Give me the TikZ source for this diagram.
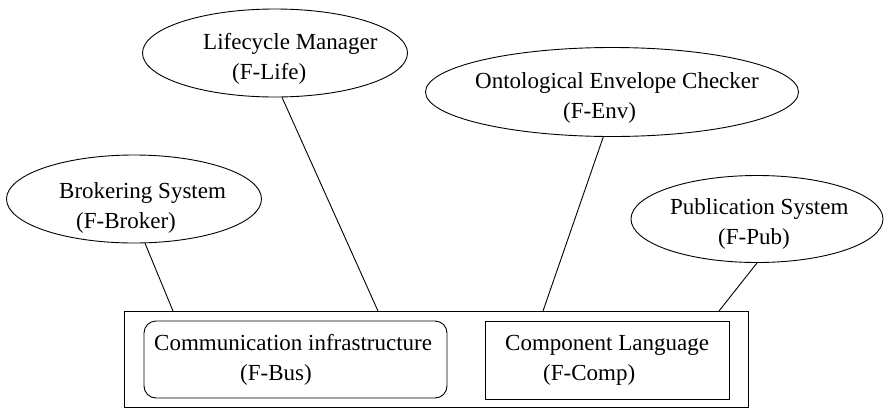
\documentclass[tikz,border=0pt]{standalone}
\usepackage{fontspec}
\setmainfont{Liberation Serif}
\usetikzlibrary{shapes.geometric}
\begin{document}
\begin{tikzpicture}[x=1pt,y=-1pt,
  oval/.style={draw, ellipse, inner sep=0pt, line width=0.9pt},
  boxshape/.style={draw, inner sep=0pt, line width=0.9pt},
  lbl/.style={anchor=base west, inner sep=0pt, font=\fontsize{23}{30}\selectfont},
  conn/.style={line width=0.9pt}]
\useasboundingbox (0,0) rectangle (884,408);
% ellipses
\node[oval, minimum width=265pt, minimum height=88pt] (life) at (275,53) {};
\node[oval, minimum width=255pt, minimum height=88pt] (brok) at (134,199) {};
\node[oval, minimum width=373pt, minimum height=89pt] (env) at (612,92) {};
\node[oval, minimum width=252pt, minimum height=87pt] (pub) at (757,219) {};
% boxes
\node[boxshape, minimum width=624pt, minimum height=96pt] (outer) at (436,359) {};
\node[boxshape, rounded corners=12pt, minimum width=303pt, minimum height=77pt] (bus) at (295.5,359.5) {};
\node[boxshape, minimum width=244pt, minimum height=78pt] (comp) at (607,360) {};
% labels
\node[lbl] (lifeA) at (203,49) {Lifecycle Manager};
\node[lbl] (lifeB) at (232,79) {(F-Life)};
\node[lbl] (brokA) at (59,198) {Brokering System};
\node[lbl] (brokB) at (76,228) {(F-Broker)};
\node[lbl] (envA) at (475,88) {Ontological Envelope Checker};
\node[lbl] (envB) at (563,118) {(F-Env)};
\node[lbl] (pubA) at (670,214) {Publication System};
\node[lbl] (pubB) at (718,244) {(F-Pub)};
\node[lbl] (busA) at (154,350) {Communication infrastructure};
\node[lbl] (busB) at (240,380) {(F-Bus)};
\node[lbl] (compA) at (505,350) {Component Language};
\node[lbl] (compB) at (543,380) {(F-Comp)};
% connector ends on the outer box
\coordinate (cb) at (173,311);
\coordinate (cl) at (378,311);
\coordinate (ce) at (543,311);
\coordinate (cp) at (719,311);
\draw[conn] (brok.-76) -- (cb);
\draw[conn] (life.-81) -- (cl);
\draw[conn] (env.-101.6) -- (ce);
\draw[conn] (pub.-90) -- (cp);
\end{tikzpicture}
\end{document}
